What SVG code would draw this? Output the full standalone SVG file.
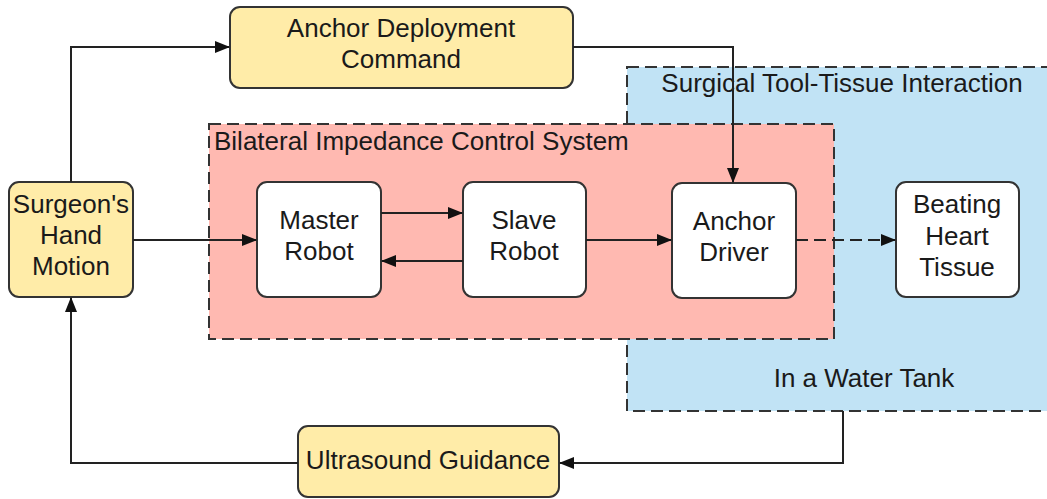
<svg xmlns="http://www.w3.org/2000/svg" width="1047" height="499" viewBox="0 0 1047 499">
<style>
.yellow{fill:#FFECA8;stroke:#333;stroke-width:2}
.white{fill:#fff;stroke:#333;stroke-width:2}
.t{font-family:"Liberation Sans",Arial,sans-serif;font-size:26px;fill:#1a1a1a;text-anchor:middle}
.c{fill:none;stroke:#222;stroke-width:2}
.dash{stroke-dasharray:12 6}
</style>
<defs>
<marker id="ah" markerUnits="userSpaceOnUse" markerWidth="15" markerHeight="12" refX="14" refY="6" orient="auto">
<path d="M0,0 L15,6 L0,12 Z" fill="#111"/>
</marker>
</defs>
<g id="tool-tissue">
<rect x="627" y="67" width="440" height="344" fill="#C1E3F5" stroke="#333" stroke-width="2" class="dash"/>
<text class="t" x="842" y="92">Surgical Tool-Tissue Interaction</text>
<text class="t" x="864" y="387">In a Water Tank</text>
</g>
<g id="bilateral">
<rect x="209" y="124" width="625" height="215" fill="#FFB9B1" stroke="#333" stroke-width="2" class="dash"/>
<text class="t" x="214" y="150" style="text-anchor:start">Bilateral Impedance Control System</text>
</g>
<g id="anchor-command">
<rect class="yellow" x="230" y="7" width="343" height="81" rx="10"/>
<text class="t" x="401" y="37">Anchor Deployment</text>
<text class="t" x="401" y="68">Command</text>
</g>
<g id="surgeon">
<rect class="yellow" x="9" y="182" width="124" height="115" rx="10"/>
<text class="t" x="71" y="213">Surgeon's</text>
<text class="t" x="71" y="244">Hand</text>
<text class="t" x="71" y="275">Motion</text>
</g>
<g id="master">
<rect class="white" x="257" y="182" width="124" height="115" rx="10"/>
<text class="t" x="319" y="229">Master</text>
<text class="t" x="319" y="260">Robot</text>
</g>
<g id="slave">
<rect class="white" x="463" y="182" width="123" height="115" rx="10"/>
<text class="t" x="524" y="229">Slave</text>
<text class="t" x="524" y="260">Robot</text>
</g>
<g id="anchor-driver">
<rect class="white" x="672" y="183" width="124" height="115" rx="10"/>
<text class="t" x="734" y="230">Anchor</text>
<text class="t" x="734" y="261">Driver</text>
</g>
<g id="heart">
<rect class="white" x="896" y="182" width="123" height="115" rx="10"/>
<text class="t" x="957" y="213">Beating</text>
<text class="t" x="957" y="245">Heart</text>
<text class="t" x="957" y="276">Tissue</text>
</g>
<g id="ultrasound">
<rect class="yellow" x="298" y="426" width="261" height="71" rx="10"/>
<text class="t" x="428" y="469">Ultrasound Guidance</text>
</g>
<g id="connectors">
<path class="c" d="M71,182 V47 H229" marker-end="url(#ah)"/>
<path class="c" d="M573,47 H733 V182" marker-end="url(#ah)"/>
<path class="c" d="M133,240 H256" marker-end="url(#ah)"/>
<path class="c" d="M381,213 H462" marker-end="url(#ah)"/>
<path class="c" d="M463,261 H382" marker-end="url(#ah)"/>
<path class="c" d="M586,240 H671" marker-end="url(#ah)"/>
<path class="c dash" d="M796,240 H895" marker-end="url(#ah)"/>
<path class="c" d="M843,411 V463 H560" marker-end="url(#ah)"/>
<path class="c" d="M298,463 H71 V298" marker-end="url(#ah)"/>
</g>
</svg>
